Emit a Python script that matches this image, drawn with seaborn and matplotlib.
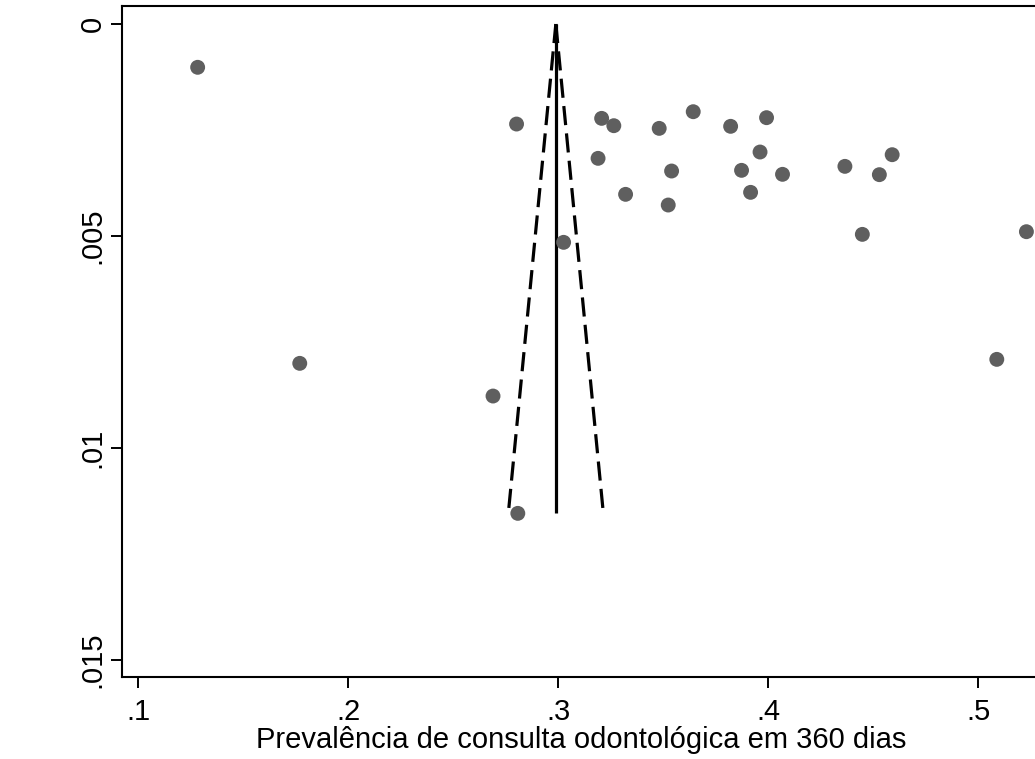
import matplotlib
matplotlib.use("Agg")
import matplotlib.pyplot as plt
import seaborn as sns
import pandas as pd
import numpy as np

# Study-level prevalence estimates and their standard errors
prevalence = [0.1284, 0.1770, 0.2802, 0.3207, 0.3265, 0.3481, 0.3643, 0.3821,
              0.3992, 0.3190, 0.3961, 0.3540, 0.3873, 0.4068, 0.3321, 0.3524,
              0.3916, 0.3026, 0.4365, 0.4590, 0.4529, 0.4448, 0.5229, 0.5088,
              0.2690, 0.2808]
std_error = [0.001021, 0.008003, 0.002359, 0.002225, 0.002398, 0.002461, 0.002068, 0.002413,
             0.002209, 0.003168, 0.003019, 0.003467, 0.003451, 0.003545, 0.004017, 0.004269,
             0.003970, 0.005149, 0.003357, 0.003082, 0.003553, 0.004961, 0.004898, 0.007909,
             0.008774, 0.011541]

# Pooled estimate and the largest standard error define the funnel
pooled = 0.2989
max_se = max(std_error)

x_ticks = [0.1, 0.2, 0.3, 0.4, 0.5]
x_tick_labels = [".1", ".2", ".3", ".4", ".5"]
y_ticks = [0, 0.005, 0.01, 0.015]
y_tick_labels = ["0", ".005", ".01", ".015"]
x_label = "Prevalência de consulta odontológica em 360 dias"

df = pd.DataFrame({"prev": prevalence, "se": std_error})

sns.set_theme(style="ticks")
plt.rcParams["font.family"] = ["Liberation Sans", "DejaVu Sans"]

fig = plt.figure(figsize=(10.35, 7.59), dpi=100)
ax = fig.add_axes([0.1179, 0.1084, 0.887, 0.8837])

# Funnel: pooled line and 95% pseudo-confidence limits
ax.plot([pooled, pooled], [0, max_se], color="black", lw=2.3, solid_capstyle="butt")
ax.plot([pooled, pooled - 1.96 * max_se], [0, max_se], color="black", lw=2.3,
        dashes=(6, 2.6))
ax.plot([pooled, pooled + 1.96 * max_se], [0, max_se], color="black", lw=2.3,
        dashes=(6, 2.6))

sns.scatterplot(data=df, x="prev", y="se", ax=ax, color="#5f5f5f", s=115,
                edgecolor="none", zorder=3, legend=False)

ax.set_xlim(0.0924, 0.5294)
ax.set_ylim(0.015394, -0.000425)

ax.set_xticks(x_ticks)
ax.set_xticklabels(x_tick_labels)
ax.set_yticks(y_ticks)
ax.set_yticklabels(y_tick_labels, rotation=90, va="center")

ax.tick_params(axis="both", length=8, width=1.4, color="black", labelsize=21,
               labelcolor="black")
ax.tick_params(axis="x", pad=7)
ax.tick_params(axis="y", pad=3)

ax.set_xlabel(x_label, fontsize=21, color="black", labelpad=0)
ax.set_ylabel("")

for side in ["left", "bottom", "top", "right"]:
    ax.spines[side].set_visible(True)
    ax.spines[side].set_linewidth(1.5)
    ax.spines[side].set_color("black")

fig.savefig("out.png", dpi=100)
